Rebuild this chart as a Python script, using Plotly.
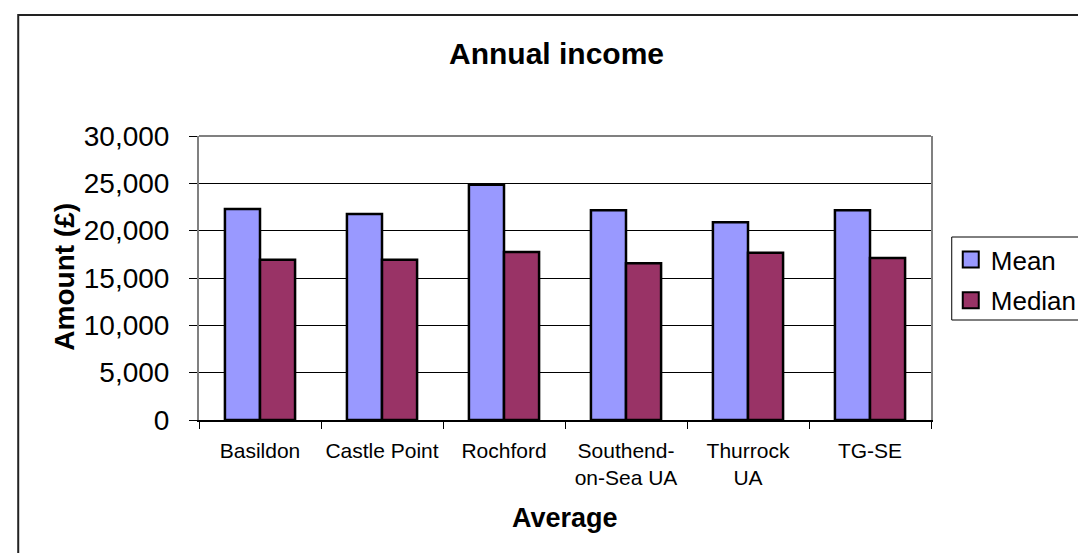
import plotly.graph_objects as go

categories = ["Basildon", "Castle Point", "Rochford", "Southend-<br>on-Sea UA", "Thurrock<br>UA", "TG-SE"]
mean_values = [22290, 21760, 24850, 22150, 20880, 22150]
median_values = [16930, 16930, 17750, 16550, 17670, 17110]
series_names = ["Mean", "Median"]
series_colors = ["#9999FF", "#993366"]
y_ticks = [0, 5000, 10000, 15000, 20000, 25000, 30000]

W, H = 1086, 553
L, R, T, B = 191, 154, 128, 141
pw, ph = W - L - R, H - T - B


def px_x(p):
    return (p - L) / pw


def px_y(p):
    return (H - B - p) / ph


fig = go.Figure()
for name, vals, col in zip(series_names, [mean_values, median_values], series_colors):
    fig.add_trace(go.Bar(
        x=categories, y=vals, name=name, showlegend=False,
        marker=dict(color=col, line=dict(color="black", width=2.5)),
    ))
for i, (name, col) in enumerate(zip(series_names, series_colors)):
    fig.add_trace(go.Scatter(
        x=[None], y=[None], mode="markers", name=name, legendgroup=name,
        marker=dict(symbol="square", size=17, color=col, line=dict(color="black", width=2)),
    ))

font = "Liberation Sans, Arial, sans-serif"

fig.update_layout(
    width=W, height=H, autosize=False,
    margin=dict(l=L, r=R, t=T, b=B, pad=0),
    paper_bgcolor="white", plot_bgcolor="white",
    bargap=0.425, bargroupgap=0, barmode="group",
    font=dict(family=font, color="black"),
    showlegend=True,
    legend=dict(
        x=px_x(952), y=px_y(228), xanchor="left", yanchor="top",
        bgcolor="rgba(0,0,0,0)", borderwidth=0,
        font=dict(size=26, family=font, color="black"),
        tracegroupgap=4, itemsizing="trace", itemwidth=30,
    ),
    xaxis=dict(
        type="category", tickson="boundaries", ticks="outside", ticklen=7,
        tickcolor="black", showline=True, linecolor="black", linewidth=1.5,
        showgrid=False, tickfont=dict(size=21, family=font, color="black"),
        tickangle=0, ticklabelstandoff=11,
    ),
    yaxis=dict(
        range=[0, 30000], tickvals=y_ticks, tickformat=",", ticks="outside",
        ticklen=8, tickcolor="black", showline=True, linecolor="#808080",
        linewidth=2, mirror=True, showgrid=True, gridcolor="black", gridwidth=1,
        zeroline=False, tickfont=dict(size=28, family=font, color="black"),
        ticklabelstandoff=14,
    ),
    shapes=[
        dict(type="line", xref="paper", yref="paper", x0=0, x1=1, y0=1, y1=1,
             line=dict(color="#808080", width=2), layer="above"),
        dict(type="rect", xref="paper", yref="paper", x0=px_x(8), x1=px_x(1100),
             y0=px_y(560), y1=px_y(7), line=dict(color="#222222", width=2), layer="above"),
        dict(type="rect", xref="paper", yref="paper", x0=px_x(953), x1=px_x(1100),
             y0=px_y(312), y1=px_y(229), line=dict(color="black", width=1), layer="above"),
    ],
    annotations=[
        dict(text="<b>Annual income</b>", xref="paper", yref="paper",
             x=px_x(553), y=px_y(46), xanchor="center", yanchor="middle",
             showarrow=False, font=dict(size=30, family=font, color="black")),
        dict(text="<b>Average</b>", xref="paper", yref="paper",
             x=px_x(561), y=px_y(509.5), xanchor="center", yanchor="middle",
             showarrow=False, font=dict(size=27, family=font, color="black")),
        dict(text="<b>Amount (£)</b>", xref="paper", yref="paper",
             x=px_x(54), y=px_y(269), xanchor="center", yanchor="middle",
             textangle=-90, showarrow=False,
             font=dict(size=28, family=font, color="black")),
    ],
)

fig.write_html("out.html")
